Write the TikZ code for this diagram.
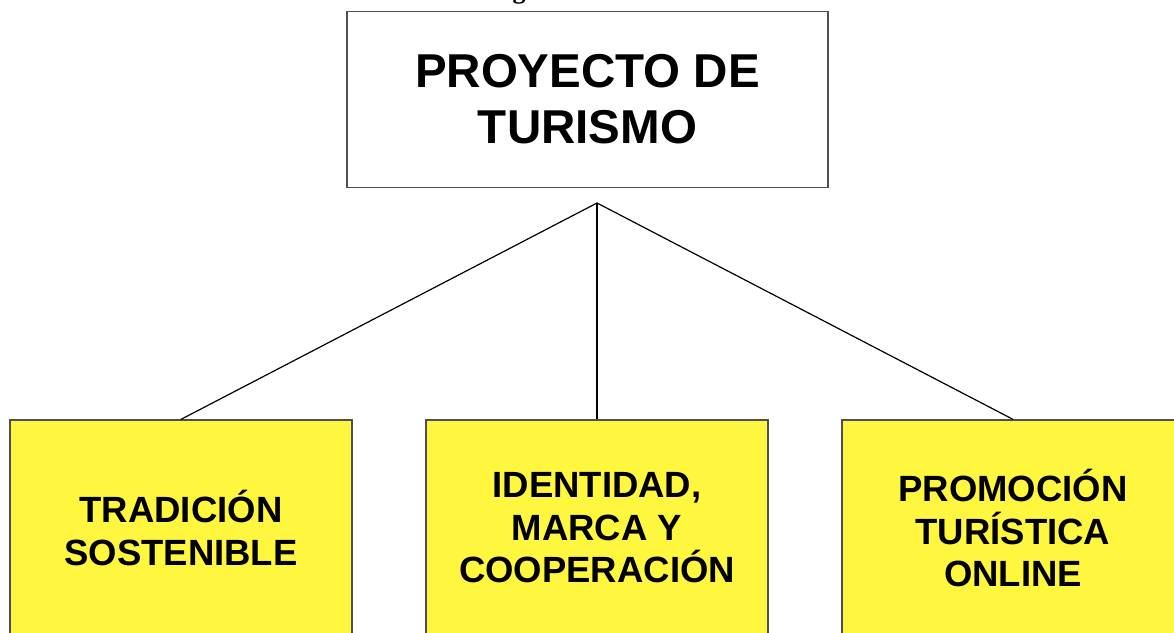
\documentclass[tikz,border=0pt]{standalone}
\usepackage{fontspec}
\setmainfont{Liberation Sans}
\newfontfamily\serifcut{Liberation Serif}
\definecolor{boxyellow}{RGB}{255,246,64}
\definecolor{boxedge}{RGB}{80,80,80}
\begin{document}
\begin{tikzpicture}[x=1pt,y=-1pt,
  topbox/.style={draw=boxedge,line width=1.3pt,fill=white,minimum width=481pt,minimum height=176pt,inner sep=0pt,
     font=\fontsize{47.5}{56}\selectfont\bfseries,align=center},
  leafbox/.style={draw=boxedge,line width=1.3pt,fill=boxyellow,minimum width=342pt,minimum height=216pt,inner sep=0pt,
     font=\fontsize{36.5}{42.5}\selectfont\bfseries,align=center},
  link/.style={draw=black,line width=1.2pt}]
\useasboundingbox (0,0) rectangle (1174,632);
\node[anchor=base,font=\serifcut\bfseries\fontsize{26}{26}\selectfont] (cut) at (519,-2) {g};
\node[topbox] (root) at (587.5,99.5) {PROYECTO DE\\TURISMO};
\coordinate (hub) at (597,203);
\node[leafbox] (a) at (181,528) {TRADICIÓN\\SOSTENIBLE};
\node[leafbox] (b) at (597,528) {IDENTIDAD,\\MARCA Y\\COOPERACIÓN};
\node[leafbox] (c) at (1013,528) {PROMOCIÓN\\TURÍSTICA\\ONLINE};
\draw[link] (hub) -- (a.north);
\draw[link] (hub) -- (b.north);
\draw[link] (hub) -- (c.north);
\end{tikzpicture}
\end{document}
